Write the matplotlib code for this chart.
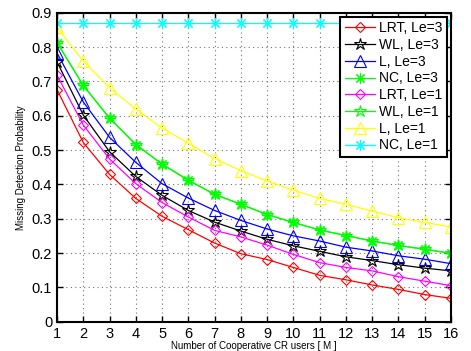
import matplotlib
matplotlib.use('Agg')
import matplotlib.pyplot as plt
import numpy as np

plt.rcParams['font.family'] = ['Liberation Sans', 'DejaVu Sans']

M = np.arange(1, 17)

lrt_le3 = [0.676, 0.522, 0.429, 0.359, 0.307, 0.268, 0.229, 0.198, 0.181, 0.158, 0.135, 0.122, 0.107, 0.094, 0.079, 0.068]
wl_le3 = [0.757, 0.602, 0.495, 0.423, 0.368, 0.324, 0.290, 0.264, 0.240, 0.221, 0.205, 0.189, 0.178, 0.166, 0.156, 0.148]
l_le3 = [0.783, 0.640, 0.537, 0.464, 0.402, 0.360, 0.324, 0.295, 0.270, 0.250, 0.235, 0.217, 0.206, 0.192, 0.182, 0.169]
nc_le3 = [0.813, 0.688, 0.593, 0.516, 0.459, 0.412, 0.371, 0.342, 0.312, 0.289, 0.267, 0.251, 0.235, 0.222, 0.211, 0.199]
lrt_le1 = [0.718, 0.573, 0.474, 0.402, 0.347, 0.305, 0.266, 0.247, 0.223, 0.196, 0.172, 0.158, 0.148, 0.131, 0.118, 0.105]
wl_le1 = [0.813, 0.688, 0.593, 0.516, 0.459, 0.412, 0.371, 0.342, 0.312, 0.289, 0.267, 0.251, 0.235, 0.222, 0.211, 0.199]
l_le1 = [0.857, 0.759, 0.681, 0.619, 0.564, 0.520, 0.475, 0.440, 0.410, 0.383, 0.359, 0.342, 0.322, 0.303, 0.289, 0.276]
nc_le1 = [0.870] * 16

series = [
    ('LRT, Le=3', lrt_le3, (1, 0, 0), 'D', 5.5),
    ('WL, Le=3', wl_le3, (0, 0, 0), '*', 9),
    ('L, Le=3', l_le3, (0, 0, 1), '^', 8),
    ('NC, Le=3', nc_le3, (0, 1, 0), (8, 2, 0), 8),
    ('LRT, Le=1', lrt_le1, (1, 0, 1), 'D', 5.5),
    ('WL, Le=1', wl_le1, (0, 1, 0), '*', 9),
    ('L, Le=1', l_le1, (1, 1, 0), '^', 8),
    ('NC, Le=1', nc_le1, (0, 1, 1), (8, 2, 0), 8),
]

fig = plt.figure(figsize=(4.71, 3.51), dpi=100)
ax = fig.add_axes([57 / 471, 1 - 321.7 / 351, (451 - 57) / 471, (321.7 - 12.7) / 351])

for name, vals, col, mk, ms in series:
    ax.plot(M, vals, color=col, marker=mk, markersize=ms, markerfacecolor='none',
            markeredgecolor=col, markeredgewidth=0.8, linewidth=0.9, label=name)

ax.set_xlim(1, 16)
ax.set_ylim(0, 0.9)
ax.set_xticks(M)
ax.set_yticks(np.arange(0, 0.91, 0.1))
ax.set_yticklabels(['0', '0.1', '0.2', '0.3', '0.4', '0.5', '0.6', '0.7', '0.8', '0.9'])
ax.tick_params(direction='in', labelsize=10.5, top=True, right=True, length=4, width=1)
ax.grid(True, linestyle=(0, (1, 3)), color='0.45', linewidth=0.8)
for s in ax.spines.values():
    s.set_linewidth(1.5)

ax.set_xlabel('Number of Cooperative CR users [ M ]', fontsize=7, labelpad=0)
ax.set_ylabel('Missing Detection Probability', fontsize=7, labelpad=4)

leg = ax.legend(loc='upper right', fontsize=10, fancybox=False, framealpha=1,
                borderaxespad=0.3, handlelength=2.2, labelspacing=0.2,
                handletextpad=0.3, borderpad=0.3)
leg.get_frame().set_edgecolor('k')
leg.get_frame().set_linewidth(1.5)

fig.savefig('out.png', dpi=100)
